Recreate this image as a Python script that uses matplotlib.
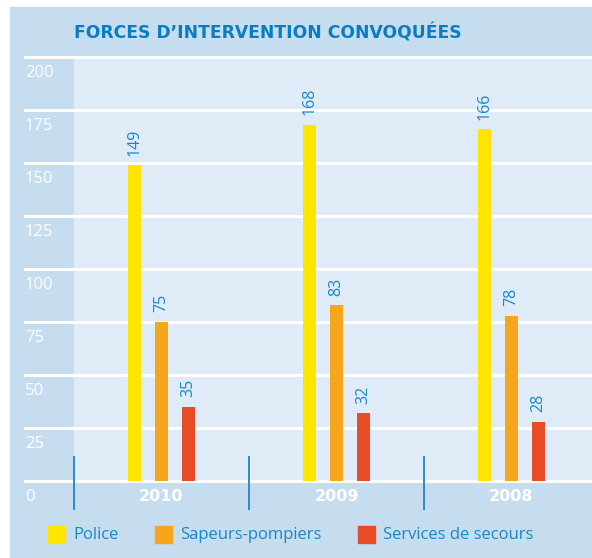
import matplotlib
matplotlib.use("Agg")
import matplotlib.pyplot as plt
import matplotlib.patches as mpatches
import matplotlib.transforms as mtransforms
import numpy as np

years = ["2010", "2009", "2008"]
police = [149, 168, 166]
sapeurs = [75, 83, 78]
secours = [35, 32, 28]
series_names = ["Police", "Sapeurs-pompiers", "Services de secours"]
yticks = [0, 25, 50, 75, 100, 125, 150, 175, 200]

col_panel = "#c6dcef"
col_plot = "#dfebf7"
col_blue = "#1a87c8"
col_title = "#0a7dc2"
colors = ["#ffe500", "#f8a51e", "#e74c26"]

plt.rcParams['font.family'] = ['Open Sans', 'DejaVu Sans']
bold_font = ['DejaVu Sans']

W, H = 592, 558
fig = plt.figure(figsize=(W / 100, H / 100), dpi=100)


def fx(px):
    return px / W


def fy(py):
    return 1 - py / H


# outer panel
fig.patches.append(mpatches.Rectangle((fx(10), fy(557)), fx(592) - fx(10), fy(7) - fy(557),
                                      transform=fig.transFigure, color=col_panel, zorder=-5))

# axes: x from 74 to 592 px, y from 57 (200) to 481 (0)
ax = fig.add_axes([fx(74), fy(481), fx(592) - fx(74), fy(57) - fy(481)])
ax.set_facecolor(col_plot)
ax.set_ylim(0, 200)
ax.set_xlim(-0.5, 2.46)
for s in ax.spines.values():
    s.set_visible(False)
ax.set_xticks([])
ax.set_yticks([])

x = np.arange(len(years))
off = 0.154
bw = 0.074
for i, vals in enumerate([police, sapeurs, secours]):
    pos = x + (i - 1) * off
    ax.bar(pos, vals, width=bw, color=colors[i], zorder=3)
    for p, v in zip(pos, vals):
        ax.text(p, v + 4.5, str(v), rotation=90, ha='center', va='bottom',
                color=col_blue, fontsize=11.5, zorder=4)

# gridlines extending into the left strip
left_frac = (25 - 74) / (592 - 74)
lab_trans = mtransforms.blended_transform_factory(fig.transFigure, ax.transData)
for t in yticks:
    ax.axhline(t, xmin=left_frac, xmax=1, color='white', lw=2.2, clip_on=False, zorder=2)
    ax.text(fx(25), t - 7.5, str(t), transform=lab_trans,
            ha='left', va='center', color='white', fontsize=12)

# separators
for s in [-0.5, 0.5, 1.5]:
    ax.vlines(s, -13.7, 11.8, color=col_blue, lw=1.3, clip_on=False, zorder=5)

# year labels
for xi, y in zip(x, years):
    ax.text(xi, -7.5, y, ha='center', va='center', color='white', fontsize=11.5,
            fontweight='bold', family=bold_font)

# title
fig.text(fx(74), fy(33), "FORCES D\u2019INTERVENTION CONVOQUÉES", ha='left', va='center',
         color=col_title, fontsize=12.3, fontweight='bold', family=bold_font)

# legend
leg_sq = [48, 155, 358]
for i, name in enumerate(series_names):
    fig.patches.append(mpatches.Rectangle((fx(leg_sq[i]), fy(543)), fx(17), fy(526) - fy(543),
                                          transform=fig.transFigure, color=colors[i], zorder=1))
    fig.text(fx(leg_sq[i] + 25), fy(535), name, ha='left', va='center', color=col_blue,
             fontsize=12)

fig.savefig("out.png", dpi=100)
